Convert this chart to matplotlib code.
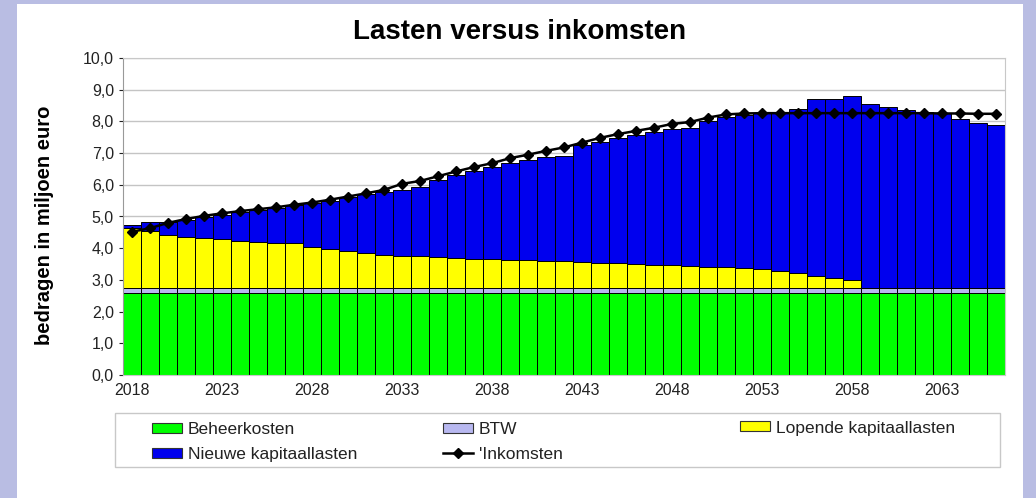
import matplotlib
matplotlib.use("Agg")
import matplotlib.pyplot as plt
from matplotlib.patches import Patch, Rectangle
from matplotlib.lines import Line2D
from matplotlib.ticker import FuncFormatter, MultipleLocator

plt.rcParams["font.family"] = ["Liberation Sans", "DejaVu Sans"]

years = list(range(2018, 2067))

beheerkosten = [2.58] * 49
btw = [0.17] * 49
lopende = [
    1.88, 1.80, 1.67, 1.61, 1.56, 1.53, 1.49, 1.46, 1.42, 1.40,
    1.30, 1.21, 1.16, 1.11, 1.05, 1.01, 0.99, 0.96, 0.94, 0.92,
    0.90, 0.89, 0.88, 0.86, 0.84, 0.82, 0.79, 0.77, 0.75, 0.73,
    0.71, 0.69, 0.67, 0.65, 0.62, 0.58, 0.54, 0.46, 0.38, 0.30,
    0.25, 0, 0, 0, 0, 0, 0, 0, 0,
]
nieuwe = [
    0.09, 0.29, 0.40, 0.52, 0.67, 0.77, 0.91, 0.99, 1.11, 1.20,
    1.37, 1.54, 1.69, 1.84, 1.98, 2.09, 2.18, 2.44, 2.61, 2.78,
    2.92, 3.04, 3.15, 3.26, 3.33, 3.69, 3.82, 3.95, 4.07, 4.19,
    4.29, 4.36, 4.58, 4.75, 4.83, 4.92, 4.96, 5.19, 5.59, 5.67,
    5.80, 5.80, 5.71, 5.61, 5.56, 5.50, 5.32, 5.21, 5.14,
]
inkomsten = [
    4.52, 4.63, 4.80, 4.92, 5.02, 5.10, 5.17, 5.23, 5.29, 5.37,
    5.44, 5.53, 5.63, 5.73, 5.84, 6.03, 6.12, 6.27, 6.42, 6.56,
    6.68, 6.84, 6.95, 7.07, 7.18, 7.33, 7.48, 7.60, 7.70, 7.80,
    7.92, 7.98, 8.12, 8.22, 8.25, 8.26, 8.26, 8.26, 8.26, 8.26,
    8.26, 8.26, 8.26, 8.26, 8.26, 8.25, 8.25, 8.24, 8.24,
]
tick_years = [2018, 2023, 2028, 2033, 2038, 2043, 2048, 2053, 2058, 2063]

labels = ["Beheerkosten", "BTW", "Lopende kapitaallasten", "Nieuwe kapitaallasten", "'Inkomsten"]
c_green, c_btw, c_yellow, c_blue = "#00ff00", "#b8b8f0", "#ffff00", "#0000ee"

W, H = 1036, 498
fig = plt.figure(figsize=(W / 100, H / 100), dpi=100, facecolor="#b9bde3")
fig.patches.append(Rectangle((17 / W, 0), (1023 - 17) / W, 1 - 4 / H,
                             transform=fig.transFigure, facecolor="white",
                             edgecolor="none", zorder=-2))

ax = fig.add_axes([123 / W, 1 - 375 / H, (1005 - 123) / W, (375 - 58) / H])
ax.set_zorder(2)
ax.set_facecolor("white")

x = list(range(len(years)))
bottom = [0.0] * len(years)
for vals, col in [(beheerkosten, c_green), (btw, c_btw), (lopende, c_yellow), (nieuwe, c_blue)]:
    ax.bar(x, vals, width=1.0, bottom=bottom, color=col, edgecolor="black", linewidth=0.7, zorder=2)
    bottom = [b + v for b, v in zip(bottom, vals)]

ax.plot(x, inkomsten, color="black", lw=1.8, marker="D", ms=5, zorder=3)

ax.set_xlim(-0.5, len(years) - 0.5)
ax.set_ylim(0, 10)
ax.yaxis.set_major_locator(MultipleLocator(1))
ax.yaxis.set_major_formatter(FuncFormatter(lambda v, p: f"{v:.1f}".replace(".", ",")))
ax.set_xticks([years.index(t) for t in tick_years])
ax.set_xticklabels([str(t) for t in tick_years])
ax.tick_params(axis="both", labelsize=11.5, colors="#222222", length=3)
ax.tick_params(axis="x", length=0, pad=6)
ax.grid(axis="y", color="#c4c4c4", lw=1, zorder=1)
ax.set_axisbelow(True)
for s in ax.spines.values():
    s.set_color("#c8c8c8")
ax.spines["left"].set_color("#999999")

fig.text(520 / W, 1 - 32 / H, "Lasten versus inkomsten", ha="center", va="center",
         fontsize=20, fontweight="bold")
fig.text(45 / W, 1 - 225 / H, "bedragen in miljoen euro", ha="center", va="center",
         rotation=90, fontsize=14.5, fontweight="bold")

# legend frame + three column legends
fig.patches.append(Rectangle((115 / W, 1 - 467 / H), (1000 - 115) / W, (467 - 413) / H,
                             transform=fig.transFigure, facecolor="white",
                             edgecolor="#c8c8c8", lw=1, zorder=-1))


def patch(c):
    return Patch(facecolor=c, edgecolor="#333333", lw=0.8)


line_h = Line2D([], [], color="black", lw=1.8, marker="D", ms=5)
kw = dict(frameon=False, fontsize=12.5, borderpad=0, borderaxespad=0,
          handlelength=1.75, handleheight=0.5, handletextpad=0.3, labelspacing=0.55)
cols = [
    ([patch(c_green), patch(c_blue)], [labels[0], labels[3]], 152, 442),
    ([patch(c_btw), line_h], [labels[1], labels[4]], 443, 442),
    ([patch(c_yellow)], [labels[2]], 740, 428),
]
for hs, ls, px, py in cols:
    lg = fig.legend(hs, ls, loc="center left", bbox_to_anchor=(px / W, 1 - py / H), **kw)
    for t in lg.get_texts():
        t.set_color("#222222")

fig.savefig("out.png", dpi=100, facecolor=fig.get_facecolor())
